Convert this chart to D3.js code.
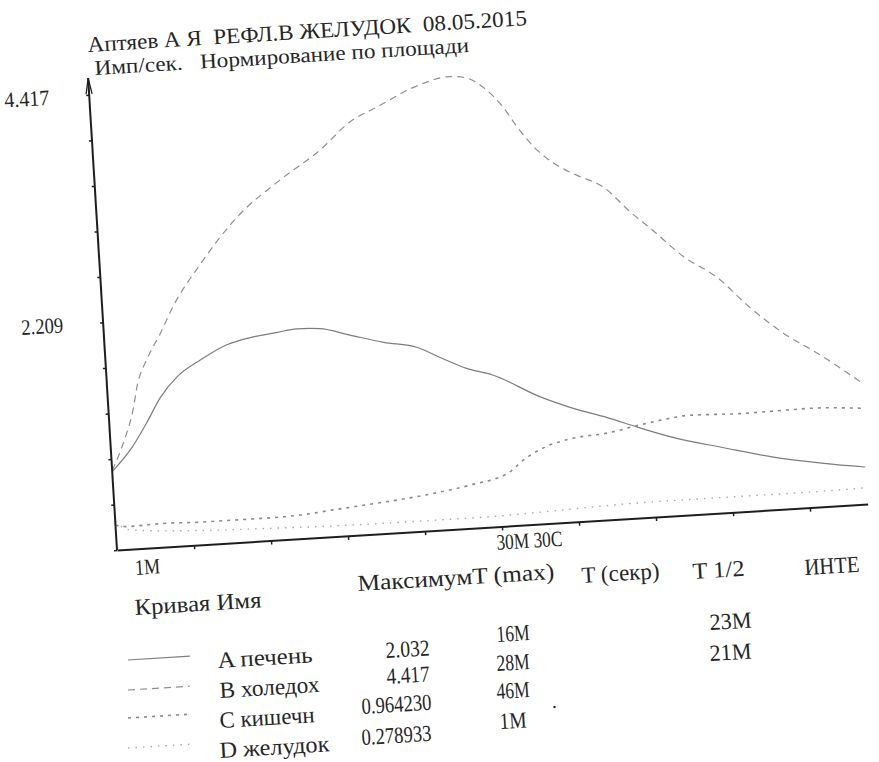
<!DOCTYPE html>
<html><head><meta charset="utf-8">
<script src="https://cdn.jsdelivr.net/npm/d3@7"></script>
<style>
html,body{margin:0;padding:0;background:#fff;}
svg text{font-family:"Liberation Serif","Times New Roman","DejaVu Serif",serif !important;fill:#262626;white-space:pre;}
</style></head>
<body>
<svg id="c" width="879" height="762" font-family="Liberation Serif"></svg>
<script>
// ---- data ----
const titleText = "Аптяев А Я  РЕФЛ.В ЖЕЛУДОК  08.05.2015";
const subtitleText = "Имп/сек.   Нормирование по площади";
const yTickValues = [2.209, 4.417];
const yTickLabels = ["2.209", "4.417"];
const xLabels = ["1M", "30M 30C"];
const xMinorTicks = [7, 13, 19, 25, 31, 37, 43, 49, 55];
const seriesNames = ["A печень", "B холедох", "C кишечн", "D желудок"];
const seriesMax = ["2.032", "4.417", "0.964230", "0.278933"];
const seriesTmax = ["16M", "28M", "46M", "1M"];
const seriesThalf = ["23M", "21M", "", ""];
const headers = ["Кривая Имя", "МаксимумT (max)", "T (секр)", "T 1/2", "ИНТЕ"];

const curveA = [[1,0.76],[2.7,0.99],[3.9,1.21],[5.1,1.45],[6.5,1.64],[8.4,1.79],[10.5,1.92],[12.6,1.98],[14.5,2.01],[16,2.032],[17.8,2.02],[20.1,1.94],[22.7,1.85],[25.3,1.78],[27,1.67],[29,1.55],[31,1.47],[34.6,1.23],[37.1,1.10],[39.7,0.99],[42,0.88],[44.7,0.76],[48.6,0.63],[52.4,0.51],[56.3,0.42],[59.5,0.36]];
const curveB = [[1,0.77],[2.1,1.06],[2.9,1.34],[3.4,1.60],[4.2,1.82],[5.4,2.07],[6.5,2.32],[8.8,2.71],[12.1,3.17],[15.4,3.48],[18.7,3.75],[21.1,4.00],[23.3,4.13],[26.5,4.31],[29,4.38],[30.3,4.36],[31.6,4.26],[33.1,4.05],[34.1,3.85],[35.5,3.62],[37,3.46],[38.5,3.35],[40.5,3.22],[42.5,2.96],[43.9,2.80],[46.4,2.50],[48.9,2.28],[51.3,1.97],[53.8,1.70],[56.3,1.49],[59.5,1.19]];
const curveC = [[1,0.24],[1.9,0.22],[5,0.23],[7.6,0.22],[10.2,0.22],[12.8,0.22],[15.4,0.23],[18,0.26],[20.6,0.29],[23.2,0.32],[26.4,0.37],[28.8,0.42],[31.7,0.51],[33,0.63],[34.3,0.72],[36.9,0.81],[39.6,0.84],[42.2,0.90],[44.8,0.95],[46,0.964],[47.5,0.96],[50,0.95],[52.6,0.955],[55.3,0.96],[59.5,0.93]];
const curveD = [[1,0.279],[2,0.19],[7.5,0.14],[12.7,0.12],[17.9,0.105],[23,0.1],[29,0.1],[34,0.115],[39.3,0.14],[44.4,0.15],[49.6,0.15],[54.9,0.15],[59.5,0.16]];

// ---- drawing ----
const FONT = '"Liberation Serif","Times New Roman",serif';
const svg = d3.select("#c");
const ANG = -3.5;
const x = d3.scaleLinear().domain([1, 59.5]).range([0, 752]);
const y = d3.scaleLinear().domain([0, 4.417]).range([0, -456]);

const plot = svg.append("g").attr("transform", `translate(117,550) rotate(${ANG})`);

const styles = [
  {stroke:"#7d7d7d", dash:null, w:1.2},
  {stroke:"#8f8f8f", dash:"7,5", w:1.2},
  {stroke:"#8a8a8a", dash:"3,5", w:1.6},
  {stroke:"#a8a8a8", dash:"1.5,6", w:1.4}
];
const allCurves = [curveA, curveB, curveC, curveD];
const line = d3.line().x(d => x(d[0])).y(d => y(d[1])).curve(d3.curveMonotoneX);

allCurves.forEach((c, i) => {
  plot.append("path").attr("d", line(c)).attr("fill", "none")
    .attr("stroke", styles[i].stroke).attr("stroke-width", styles[i].w)
    .attr("stroke-dasharray", styles[i].dash);
});

// x axis
const xAxis = d3.axisBottom(x).tickValues(xMinorTicks).tickSize(4).tickFormat("").tickSizeOuter(0);
const gx = plot.append("g").call(xAxis);
gx.select(".domain").attr("stroke", "#1e1e1e").attr("stroke-width", 2);
gx.selectAll(".tick line").attr("stroke", "#1e1e1e").attr("stroke-width", 1.5);

// y axis
const yMinor = d3.range(0, 11).map(k => k * 0.4417);
const yAxis = d3.axisLeft(y).tickValues(yMinor).tickSize(3).tickFormat("").tickSizeOuter(0);
const gy = plot.append("g").call(yAxis);
gy.select(".domain").remove();
gy.selectAll(".tick line").attr("stroke", "#1e1e1e").attr("stroke-width", 1.5);
const yTop = y(4.58);
plot.append("line").attr("x1", 0).attr("y1", 0).attr("x2", 0).attr("y2", yTop)
  .attr("stroke", "#1e1e1e").attr("stroke-width", 2);
plot.append("path").attr("d", `M-3,${yTop+16} L0,${yTop} L3,${yTop+16}`)
  .attr("fill", "none").attr("stroke", "#1e1e1e").attr("stroke-width", 1.3);

// y labels
const yLabW = [42, 45];
const yLab = d3.axisLeft(y).tickValues(yTickValues).tickSize(0).tickPadding(40)
  .tickFormat((d, i) => yTickLabels[i]);
const gyl = plot.append("g").call(yLab).attr("font-family", FONT);
gyl.select(".domain").remove();
gyl.selectAll("text").attr("font-size", 22).style("font-family", FONT)
  .attr("textLength", (d, i) => yLabW[i]).attr("lengthAdjust", "spacingAndGlyphs");

// x labels
plot.append("text").attr("x", x(1) + 17).attr("y", 26).attr("font-size", 22)
  .style("font-family", FONT).attr("textLength", 25).attr("lengthAdjust", "spacingAndGlyphs").text(xLabels[0]);
plot.append("text").attr("x", x(30.5)).attr("y", 23).attr("font-size", 22)
  .style("font-family", FONT).attr("textLength", 66).attr("lengthAdjust", "spacingAndGlyphs").text(xLabels[1]);

// texts outside plot, each rotated
function txt(s, px, py, size, w) {
  const t = svg.append("text").attr("transform", `translate(${px},${py}) rotate(${ANG})`)
    .attr("font-size", size).style("font-family", FONT).text(s);
  if (w) t.attr("textLength", w).attr("lengthAdjust", "spacingAndGlyphs");
  return t;
}
txt(titleText, 88, 52, 22, 440);
txt(subtitleText, 95, 75, 21, 375);

const headerPos = [[135,615],[358,591],[582,583],[693,579],[805,575]];
const headerW = [127, 197, 78, 52, 55];
headers.forEach((h, i) => txt(h, headerPos[i][0], headerPos[i][1], 23, headerW[i]));

const namePos = [[218,668],[220,698],[220,728],[220,758]];
const nameW = [95, 100, 95, 110];
const maxPos = [[386,658],[387,684],[362,714],[362,745]];
const maxW = [44, 43, 70, 70];
const tmaxPos = [[497,642],[497,671],[497,699],[500,729]];
const tmaxW = [33, 33, 33, 27];
const thalfPos = [[710,630],[710,661]];
seriesNames.forEach((n, i) => {
  txt(n, namePos[i][0], namePos[i][1], 23, nameW[i]);
  txt(seriesMax[i], maxPos[i][0], maxPos[i][1], 23, maxW[i]);
  txt(seriesTmax[i], tmaxPos[i][0], tmaxPos[i][1], 23, tmaxW[i]);
  if (seriesThalf[i]) txt(seriesThalf[i], thalfPos[i][0], thalfPos[i][1], 23, 42);
});
txt(".", 552, 708, 20);

// legend samples
const sampleY = [660, 690, 718, 748];
styles.forEach((s, i) => {
  svg.append("line").attr("transform", `translate(128,${sampleY[i]}) rotate(${ANG})`)
    .attr("x1", 0).attr("x2", 62).attr("y1", 0).attr("y2", 0)
    .attr("stroke", s.stroke).attr("stroke-width", s.w).attr("stroke-dasharray", s.dash);
});
</script>
</body></html>
